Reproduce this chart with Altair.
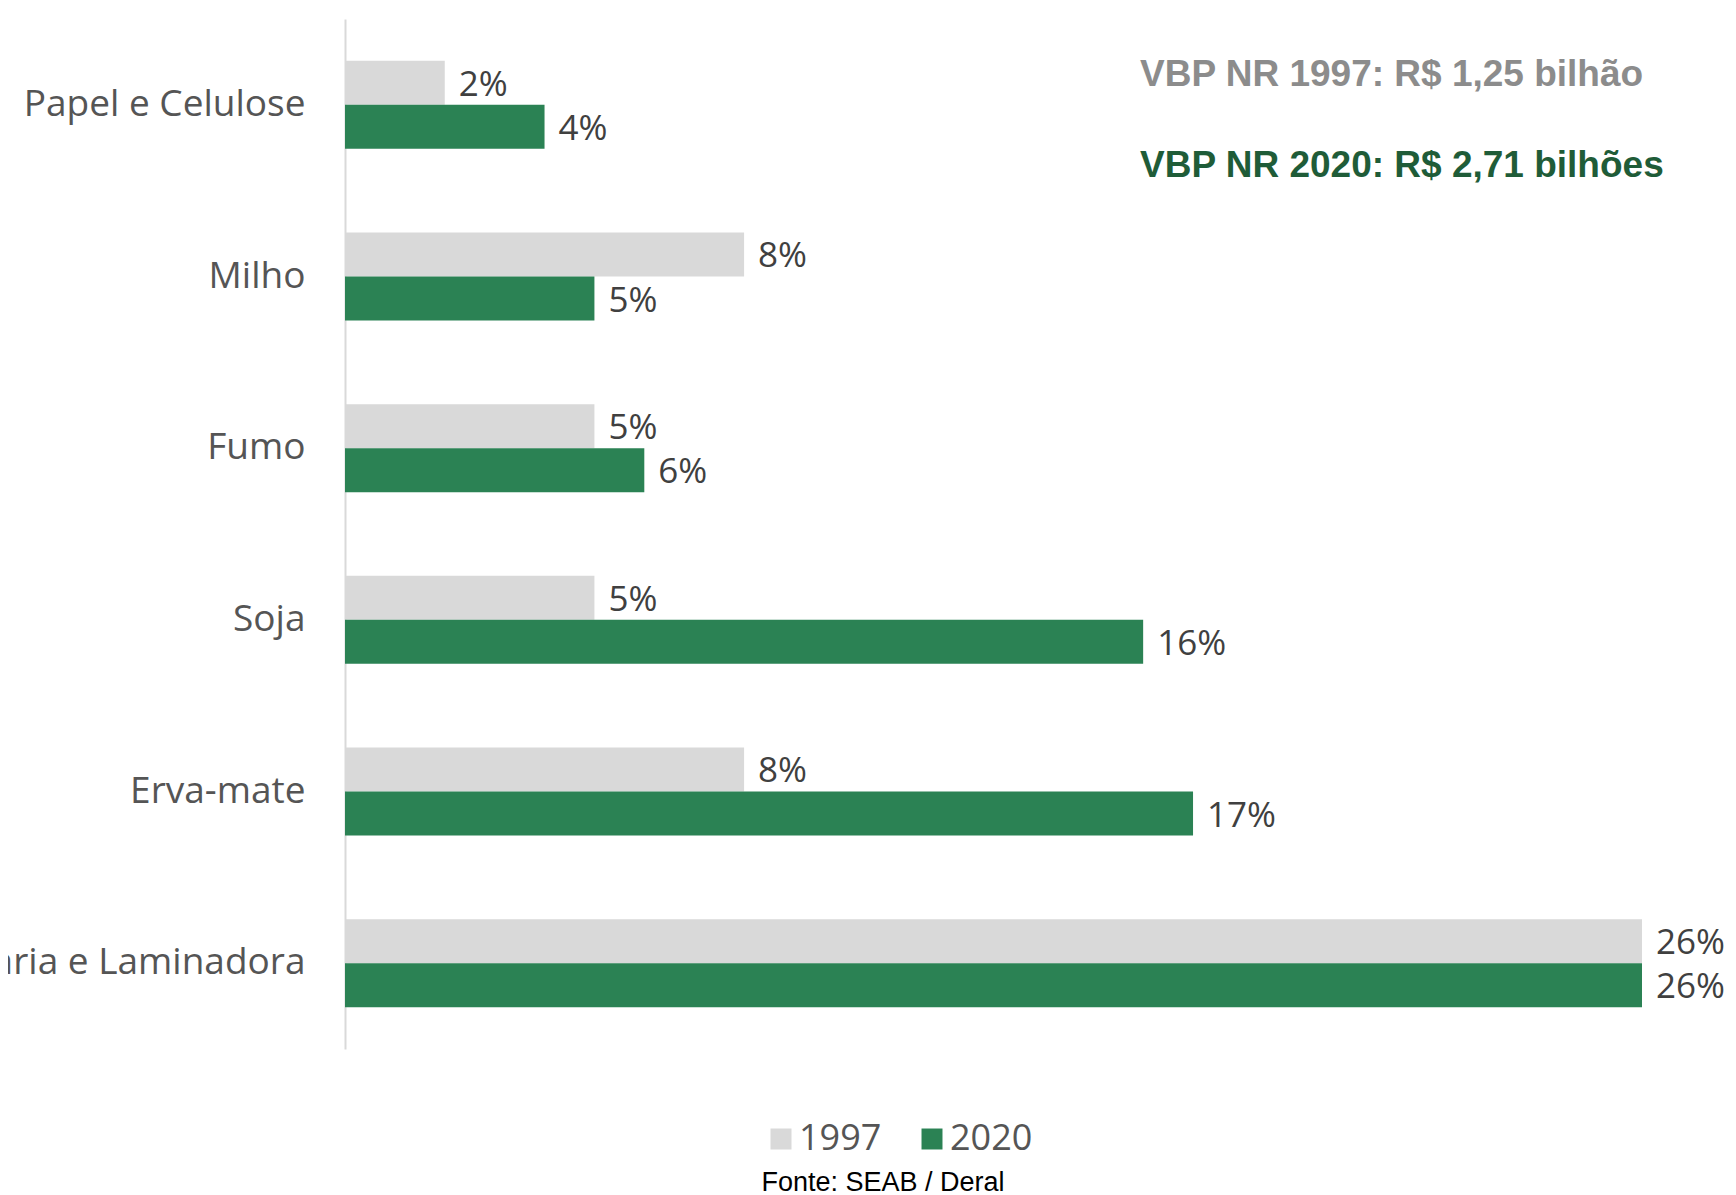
import altair as alt
import pandas as pd

categorias = ["Papel e Celulose", "Milho", "Fumo", "Soja", "Erva-mate", "Serraria e Laminadora"]
valores_1997 = [2, 8, 5, 5, 8, 26]
valores_2020 = [4, 5, 6, 16, 17, 26]
anos = ["1997", "2020"]
cores = ["#d9d9d9", "#2b8254"]
titulo_1997 = "VBP NR 1997: R$ 1,25 bilhão"
titulo_2020 = "VBP NR 2020: R$ 2,71 bilhões"
fonte = "Fonte: SEAB / Deral"

rows = []
for c, a, b in zip(categorias, valores_1997, valores_2020):
    rows.append({"categoria": c, "ano": "1997", "valor": a})
    rows.append({"categoria": c, "ano": "2020", "valor": b})
df = pd.DataFrame(rows)

W, H = 1297, 1030
LABEL_FONT = "Open Sans"

y_enc = alt.Y(
    "categoria:N",
    sort=categorias,
    title=None,
    scale=alt.Scale(paddingInner=0.487, paddingOuter=0.2435),
    axis=alt.Axis(
        ticks=False,
        domainColor="#d9d9d9",
        domainWidth=2,
        labelFontSize=37,
        labelFont=LABEL_FONT,
        labelColor="#555555",
        labelPadding=40,
        labelLimit=0,
    ),
)
x_enc = alt.X("valor:Q", scale=alt.Scale(domain=[0, 26], nice=False, zero=True), axis=None)
yoff = alt.YOffset("ano:N", sort=anos, scale=alt.Scale(paddingInner=0, paddingOuter=0))
color_enc = alt.Color(
    "ano:N",
    scale=alt.Scale(domain=anos, range=cores),
    legend=alt.Legend(
        title=None,
        orient="none",
        direction="horizontal",
        legendX=418,
        legendY=1102,
        symbolType="square",
        symbolSize=440,
        symbolStrokeWidth=0,
        labelFontSize=36,
        labelFont=LABEL_FONT,
        labelColor="#555555",
        labelOffset=0,
        columnPadding=32,
        padding=0,
    ),
)

base = alt.Chart(df).encode(y=y_enc, x=x_enc, yOffset=yoff)

bars = base.mark_bar(cornerRadius=0).encode(color=color_enc)

labels = base.transform_calculate(rotulo="datum.valor + '%'").mark_text(
    align="left", baseline="middle", dx=14, dy=2, fontSize=35, font=LABEL_FONT, color="#404040"
).encode(text="rotulo:N")

t1 = alt.Chart(pd.DataFrame({"t": [titulo_1997]})).mark_text(
    align="left", baseline="middle", fontSize=37, fontWeight="bold", font="Liberation Sans", color="#8c8c8c"
).encode(text="t:N", x=alt.value(795), y=alt.value(56))

t2 = alt.Chart(pd.DataFrame({"t": [titulo_2020]})).mark_text(
    align="left", baseline="middle", fontSize=37, fontWeight="bold", font="Liberation Sans", color="#1f5c38"
).encode(text="t:N", x=alt.value(795), y=alt.value(147))

t3 = alt.Chart(pd.DataFrame({"t": [fonte]})).mark_text(
    align="center", baseline="alphabetic", fontSize=27, font="Liberation Sans", color="#000000"
).encode(text="t:N", x=alt.value(538), y=alt.value(1172))

chart = (
    alt.layer(bars, labels, t1, t2, t3)
    .properties(
        width=W,
        height=H,
        background="white",
        autosize=alt.AutoSizeParams(type="none"),
        padding={"left": 337, "top": 11, "right": 85, "bottom": 148},
    )
    .configure_view(strokeWidth=0, stroke="transparent")
)

chart.save("out.html", embed_options={"renderer": "svg", "actions": False})
